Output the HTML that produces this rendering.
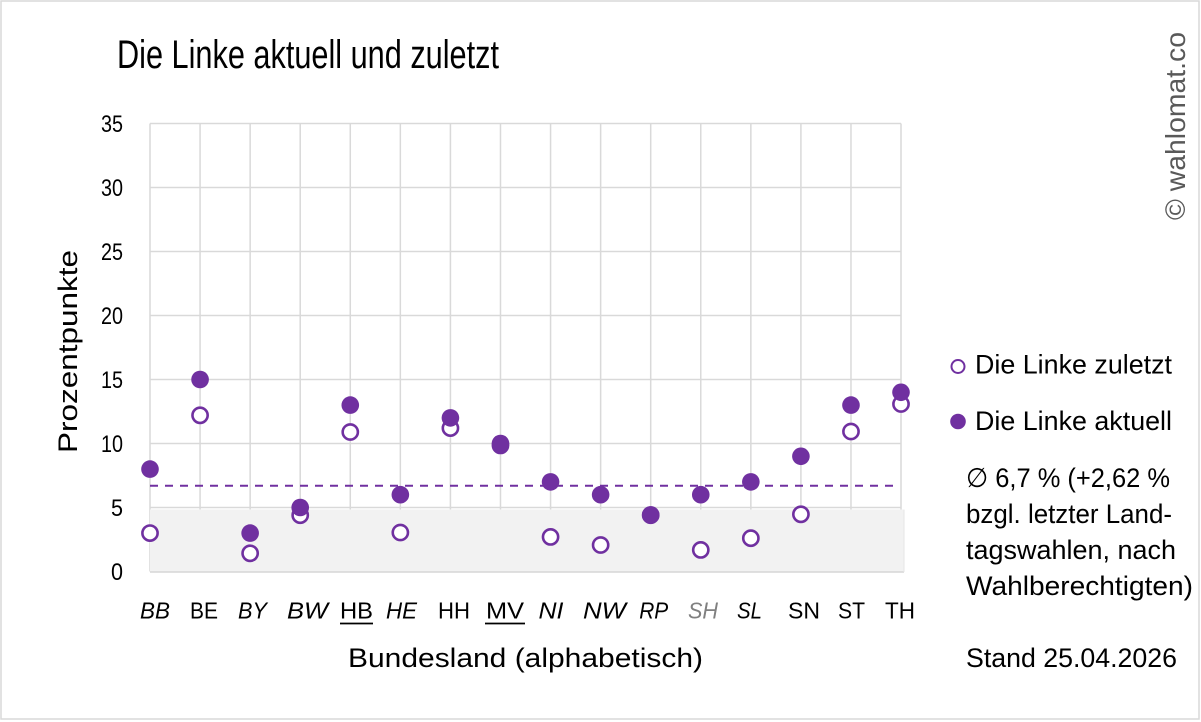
<!DOCTYPE html>
<html><head><meta charset="utf-8"><style>
html,body{margin:0;padding:0;background:#fff;}
svg{display:block;}
text{font-family:"Liberation Sans",Arial,sans-serif;fill:#000;}
</style></head><body>
<svg width="1201" height="722" viewBox="0 0 1201 722" xmlns="http://www.w3.org/2000/svg">
<rect x="0" y="0" width="1201" height="722" fill="#fff"/>
<rect x="1" y="1" width="1198" height="718" fill="none" stroke="#d9d9d9" stroke-width="1.5"/>

<text x="117" y="68" font-size="40" textLength="382" lengthAdjust="spacingAndGlyphs">Die Linke aktuell und zuletzt</text>

<g stroke="#d9d9d9" stroke-width="1.5">
<line x1="150" y1="123.5" x2="901" y2="123.5"/>
<line x1="150" y1="187.5" x2="901" y2="187.5"/>
<line x1="150" y1="251.5" x2="901" y2="251.5"/>
<line x1="150" y1="315.5" x2="901" y2="315.5"/>
<line x1="150" y1="379.5" x2="901" y2="379.5"/>
<line x1="150" y1="443.5" x2="901" y2="443.5"/>
<line x1="150" y1="507.5" x2="901" y2="507.5"/>
<line x1="150" y1="571.5" x2="901" y2="571.5"/>
<line x1="150" y1="123.5" x2="150" y2="571.5"/>
<line x1="200.07" y1="123.5" x2="200.07" y2="571.5"/>
<line x1="250.14" y1="123.5" x2="250.14" y2="571.5"/>
<line x1="300.21" y1="123.5" x2="300.21" y2="571.5"/>
<line x1="350.28" y1="123.5" x2="350.28" y2="571.5"/>
<line x1="400.35" y1="123.5" x2="400.35" y2="571.5"/>
<line x1="450.42" y1="123.5" x2="450.42" y2="571.5"/>
<line x1="500.49" y1="123.5" x2="500.49" y2="571.5"/>
<line x1="550.56" y1="123.5" x2="550.56" y2="571.5"/>
<line x1="600.63" y1="123.5" x2="600.63" y2="571.5"/>
<line x1="650.7" y1="123.5" x2="650.7" y2="571.5"/>
<line x1="700.77" y1="123.5" x2="700.77" y2="571.5"/>
<line x1="750.84" y1="123.5" x2="750.84" y2="571.5"/>
<line x1="800.91" y1="123.5" x2="800.91" y2="571.5"/>
<line x1="850.98" y1="123.5" x2="850.98" y2="571.5"/>
<line x1="901" y1="123.5" x2="901" y2="571.5"/>
</g>

<!-- grey band 0-5 -->
<rect x="150" y="509.5" width="754" height="62.5" fill="#f2f2f2"/>
<line x1="150" y1="572" x2="904" y2="572" stroke="#d6d6d6" stroke-width="1.5"/>
<line x1="904" y1="509.5" x2="904" y2="572" stroke="#e6e6e6" stroke-width="1"/>

<!-- y tick labels -->
<g font-size="24" text-anchor="end">
<text x="123" y="132" textLength="22" lengthAdjust="spacingAndGlyphs">35</text>
<text x="123" y="196" textLength="22" lengthAdjust="spacingAndGlyphs">30</text>
<text x="123" y="260" textLength="22" lengthAdjust="spacingAndGlyphs">25</text>
<text x="123" y="324" textLength="22" lengthAdjust="spacingAndGlyphs">20</text>
<text x="123" y="388" textLength="22" lengthAdjust="spacingAndGlyphs">15</text>
<text x="123" y="452" textLength="22" lengthAdjust="spacingAndGlyphs">10</text>
<text x="123" y="516" textLength="12" lengthAdjust="spacingAndGlyphs">5</text>
<text x="123" y="580" textLength="12" lengthAdjust="spacingAndGlyphs">0</text>
</g>

<!-- average dashed line -->
<line x1="150" y1="485.8" x2="893" y2="485.8" stroke="#7030a0" stroke-width="2" stroke-dasharray="8,7"/>

<!-- hollow markers (zuletzt) -->
<g fill="#fff" stroke="#7030a0" stroke-width="2.6">
<circle cx="150" cy="533.1" r="7.6"/>
<circle cx="200.07" cy="415.3" r="7.6"/>
<circle cx="250.14" cy="553.3" r="7.6"/>
<circle cx="300.21" cy="515.2" r="7.6"/>
<circle cx="350.28" cy="432.0" r="7.6"/>
<circle cx="400.35" cy="532.5" r="7.6"/>
<circle cx="450.42" cy="428.1" r="7.6"/>
<circle cx="500.49" cy="445.4" r="7.6"/>
<circle cx="550.56" cy="536.9" r="7.6"/>
<circle cx="600.63" cy="545.0" r="7.6"/>
<circle cx="650.7" cy="515.2" r="7.6"/>
<circle cx="700.77" cy="549.9" r="7.6"/>
<circle cx="750.84" cy="538.2" r="7.6"/>
<circle cx="800.91" cy="514.3" r="7.6"/>
<circle cx="850.98" cy="431.5" r="7.6"/>
<circle cx="901" cy="404.0" r="7.6"/>
</g>

<!-- filled markers (aktuell) -->
<g fill="#7030a0">
<circle cx="150" cy="469.1" r="8.8"/>
<circle cx="200.07" cy="379.5" r="8.8"/>
<circle cx="250.14" cy="533.1" r="8.8"/>
<circle cx="300.21" cy="507.5" r="8.8"/>
<circle cx="350.28" cy="405.1" r="8.8"/>
<circle cx="400.35" cy="494.7" r="8.8"/>
<circle cx="450.42" cy="417.9" r="8.8"/>
<circle cx="500.49" cy="443.5" r="8.8"/>
<circle cx="550.56" cy="481.9" r="8.8"/>
<circle cx="600.63" cy="494.7" r="8.8"/>
<circle cx="650.7" cy="514.9" r="8.8"/>
<circle cx="700.77" cy="494.7" r="8.8"/>
<circle cx="750.84" cy="481.9" r="8.8"/>
<circle cx="800.91" cy="456.3" r="8.8"/>
<circle cx="850.98" cy="405.1" r="8.8"/>
<circle cx="901" cy="392.3" r="8.8"/>
</g>

<!-- x tick labels -->
<g font-size="23" text-anchor="middle">
<text x="155" y="618.5" font-style="italic" textLength="30" lengthAdjust="spacingAndGlyphs">BB</text>
<text x="204" y="618.5" textLength="28" lengthAdjust="spacingAndGlyphs">BE</text>
<text x="252.5" y="618.5" font-style="italic" textLength="29" lengthAdjust="spacingAndGlyphs">BY</text>
<text x="307.5" y="618.5" font-style="italic" textLength="41" lengthAdjust="spacingAndGlyphs">BW</text>
<text x="356.5" y="618.5" textLength="33" lengthAdjust="spacingAndGlyphs">HB</text>
<text x="401.5" y="618.5" font-style="italic" textLength="31" lengthAdjust="spacingAndGlyphs">HE</text>
<text x="454" y="618.5" textLength="32" lengthAdjust="spacingAndGlyphs">HH</text>
<text x="505" y="618.5" textLength="38" lengthAdjust="spacingAndGlyphs">MV</text>
<text x="551" y="618.5" font-style="italic" textLength="25" lengthAdjust="spacingAndGlyphs">NI</text>
<text x="604.5" y="618.5" font-style="italic" textLength="43" lengthAdjust="spacingAndGlyphs">NW</text>
<text x="653.7" y="618.5" font-style="italic" textLength="29" lengthAdjust="spacingAndGlyphs">RP</text>
<text x="703" y="618.5" font-style="italic" textLength="30" lengthAdjust="spacingAndGlyphs" style="fill:#808080">SH</text>
<text x="749.5" y="618.5" font-style="italic" textLength="25" lengthAdjust="spacingAndGlyphs">SL</text>
<text x="804" y="618.5" textLength="32" lengthAdjust="spacingAndGlyphs">SN</text>
<text x="851.5" y="618.5" textLength="27" lengthAdjust="spacingAndGlyphs">ST</text>
<text x="900" y="618.5" textLength="30" lengthAdjust="spacingAndGlyphs">TH</text>
</g>
<line x1="340" y1="623.5" x2="373" y2="623.5" stroke="#000" stroke-width="1.8"/>
<line x1="485" y1="623.5" x2="525" y2="623.5" stroke="#000" stroke-width="1.8"/>

<!-- axis titles -->
<text x="348" y="667" font-size="27" textLength="355" lengthAdjust="spacingAndGlyphs">Bundesland (alphabetisch)</text>
<text x="77" y="453" font-size="27" textLength="203" lengthAdjust="spacingAndGlyphs" transform="rotate(-90 77 453)">Prozentpunkte</text>

<!-- legend -->
<circle cx="958" cy="366.5" r="6.5" fill="#fff" stroke="#7030a0" stroke-width="2"/>
<text x="975" y="373.5" font-size="27" textLength="197" lengthAdjust="spacingAndGlyphs">Die Linke zuletzt</text>
<circle cx="958" cy="421.5" r="7.8" fill="#7030a0"/>
<text x="975" y="430" font-size="27" textLength="197" lengthAdjust="spacingAndGlyphs">Die Linke aktuell</text>

<g font-size="27">
<text x="966" y="487" textLength="204" lengthAdjust="spacingAndGlyphs">∅ 6,7 % (+2,62 %</text>
<text x="966" y="523" textLength="206" lengthAdjust="spacingAndGlyphs">bzgl. letzter Land-</text>
<text x="966" y="559" textLength="210" lengthAdjust="spacingAndGlyphs">tagswahlen, nach</text>
<text x="966" y="595" textLength="227" lengthAdjust="spacingAndGlyphs">Wahlberechtigten)</text>
<text x="966" y="667" textLength="211" lengthAdjust="spacingAndGlyphs">Stand 25.04.2026</text>
</g>

<!-- copyright -->
<text x="1185" y="220" font-size="28" textLength="188" lengthAdjust="spacingAndGlyphs" transform="rotate(-90 1185 220)" style="fill:#595959">© wahlomat.co</text>
</svg>
</body></html>
